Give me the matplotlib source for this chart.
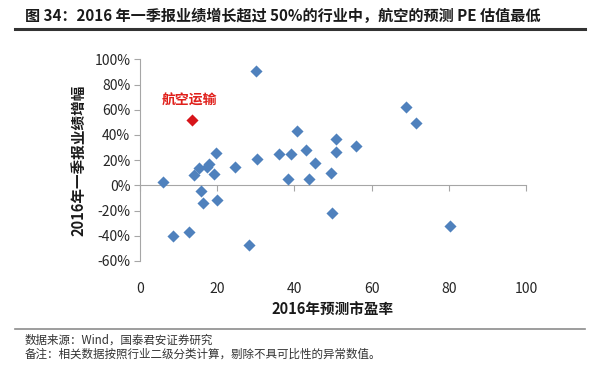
import matplotlib
matplotlib.use("Agg")
import matplotlib.pyplot as plt
from matplotlib.ticker import PercentFormatter
from matplotlib.lines import Line2D

plt.rcParams['font.family'] = ['Noto Sans CJK SC', 'DejaVu Sans']
plt.rcParams['axes.unicode_minus'] = False

# Data: 2016 forecast PE vs Q1 2016 earnings growth (%)
pe = [6, 8.5, 12.8, 14, 15.4, 15.7, 16.4, 17.3, 17.8, 19.1, 19.7, 19.9, 24.5,
      30, 30.2, 28.3, 36, 39.1, 38.3, 40.6, 43, 43.7, 45.4, 49.4, 49.7, 50.7,
      50.8, 55.9, 68.9, 71.4, 80.3]
growth = [3, -40, -37, 8, 14, -4.5, -13.8, 14.5, 17, 9, 26, -12, 14.5,
          91, 21, -47, 25, 25, 5, 43, 28, 4.8, 17.5, 10, -21.7, 37,
          26.7, 31.2, 62.4, 49.5, -32]
air_pe = [13.5]
air_growth = [51.6]
air_label = "航空运输"

x_ticks = [0, 20, 40, 60, 80, 100]
y_ticks = [-60, -40, -20, 0, 20, 40, 60, 80, 100]

W, H = 604, 365
fig = plt.figure(figsize=(W / 100, H / 100), dpi=100)
ax = fig.add_axes([140 / W, 1 - 261 / H, 386 / W, 201.7 / H])

ax.scatter(pe, growth, marker='D', s=38, color='#4F81BD', linewidths=0, zorder=3)
ax.scatter(air_pe, air_growth, marker='D', s=38, color='#D7141A', linewidths=0, zorder=4)
ax.text(5.6, 67.5, air_label, color='#E0201B', fontsize=10, fontweight='bold',
        ha='left', va='center')

ax.set_xlim(0, 100)
ax.set_ylim(-60, 100)
ax.set_yticks(y_ticks)
ax.yaxis.set_major_formatter(PercentFormatter(xmax=100, decimals=0))
ax.set_xticks(x_ticks)

for s in ['top', 'right']:
    ax.spines[s].set_visible(False)
ax.spines['left'].set_color('#A6A6A6')
ax.spines['bottom'].set_position(('data', 0))
ax.spines['bottom'].set_color('#A6A6A6')
ax.tick_params(axis='x', direction='out', length=4, color='#A6A6A6', labelbottom=False)
ax.tick_params(axis='y', direction='out', length=4, color='#A6A6A6',
               labelsize=10, labelcolor='#262626', pad=3)

sec = ax.secondary_xaxis(0)
sec.set_xticks(x_ticks)
sec.spines['bottom'].set_visible(False)
sec.tick_params(axis='x', length=0, pad=15, labelsize=10, labelcolor='#262626')

ax.set_ylabel("2016年一季报业绩增幅", fontsize=10.5, fontweight='bold', color='#1a1a1a')
ax.yaxis.set_label_coords((86 - 140) / 386, 0.5)
ax.set_xlabel("2016年预测市盈率", fontsize=10.5, fontweight='bold', color='#1a1a1a')
ax.xaxis.set_label_coords(0.5, (261 - 302) / 201.7)

# Title and decorations
fig.text(25 / W, 1 - 15.5 / H, "图 34：2016 年一季报业绩增长超过 50%的行业中，航空的预测 PE 估值最低",
         fontsize=10.9, fontweight='bold', color='#1a1a1a', ha='left', va='center')
fig.add_artist(Line2D([15 / W, 585 / W], [1 - 29 / H, 1 - 29 / H], color='#333333', lw=2.2,
                      transform=fig.transFigure))
fig.add_artist(Line2D([15 / W, 585 / W], [1 - 329 / H, 1 - 329 / H], color='#8C8C8C', lw=1.2,
                      transform=fig.transFigure))
fig.text(25 / W, 1 - 340 / H, "数据来源：Wind，国泰君安证券研究", fontsize=8.3,
         color='#333333', ha='left', va='center')
fig.text(25 / W, 1 - 354 / H, "备注：相关数据按照行业二级分类计算，剔除不具可比性的异常数值。", fontsize=8.3,
         color='#333333', ha='left', va='center')

fig.savefig("out.png", dpi=100)
